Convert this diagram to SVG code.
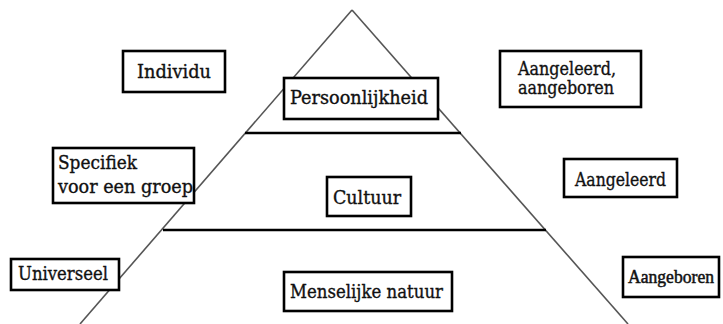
<svg xmlns="http://www.w3.org/2000/svg" width="723" height="324" viewBox="0 0 723 324">
<style>
.side{stroke:#555;stroke-width:1.6;fill:none}
.layer{stroke:#000;stroke-width:2.5;fill:none}
.box{fill:#fff;stroke:#000;stroke-width:2.6}
text{font-family:"DejaVu Serif","Liberation Serif",serif;font-size:18px;fill:#111;stroke:#111;stroke-width:0.35}
text.narrow{font-family:"Liberation Serif","DejaVu Serif",serif;font-size:18px;stroke-width:0.5}
</style>
<rect width="723" height="324" fill="#fff"/>
<g id="connectors">
<line class="side" x1="352" y1="10" x2="80" y2="324"/>
<line class="side" x1="352" y1="10" x2="628" y2="324"/>
<line class="layer" x1="245" y1="133" x2="461" y2="133"/>
<line class="layer" x1="163" y1="230" x2="546" y2="230"/>
</g>
<g id="individu">
<rect class="box" x="123" y="51" width="102" height="41"/>
<text x="137" y="78" textLength="74" lengthAdjust="spacingAndGlyphs">Individu</text>
</g>
<g id="persoonlijkheid">
<rect class="box" x="284" y="78" width="154" height="41"/>
<text x="290" y="104" textLength="138" lengthAdjust="spacingAndGlyphs">Persoonlijkheid</text>
</g>
<g id="aangeleerd-aangeboren">
<rect class="box" x="500" y="51" width="141" height="56"/>
<text x="518" y="75" textLength="98" lengthAdjust="spacingAndGlyphs">Aangeleerd,</text>
<text x="518" y="94" textLength="96" lengthAdjust="spacingAndGlyphs">aangeboren</text>
</g>
<g id="specifiek">
<rect class="box" x="53" y="148" width="141" height="55"/>
<text x="58" y="169" textLength="79" lengthAdjust="spacingAndGlyphs">Specifiek</text>
<text x="58" y="193" textLength="135" lengthAdjust="spacingAndGlyphs">voor een groep</text>
</g>
<g id="cultuur">
<rect class="box" x="327" y="177" width="84" height="39"/>
<text x="333" y="204" textLength="68" lengthAdjust="spacingAndGlyphs">Cultuur</text>
</g>
<g id="aangeleerd">
<rect class="box" x="564" y="159" width="113" height="38"/>
<text x="575" y="186" textLength="91" lengthAdjust="spacingAndGlyphs">Aangeleerd</text>
</g>
<g id="universeel">
<rect class="box" x="11" y="259" width="108" height="31"/>
<text x="18" y="280" textLength="90" lengthAdjust="spacingAndGlyphs">Universeel</text>
</g>
<g id="menselijke-natuur">
<rect class="box" x="284" y="272" width="168" height="39"/>
<text x="290" y="298" textLength="153" lengthAdjust="spacingAndGlyphs">Menselijke natuur</text>
</g>
<g id="aangeboren">
<rect class="box" x="623" y="257" width="96" height="40"/>
<text class="narrow" x="628" y="283" textLength="86" lengthAdjust="spacingAndGlyphs">Aangeboren</text>
</g>
</svg>
